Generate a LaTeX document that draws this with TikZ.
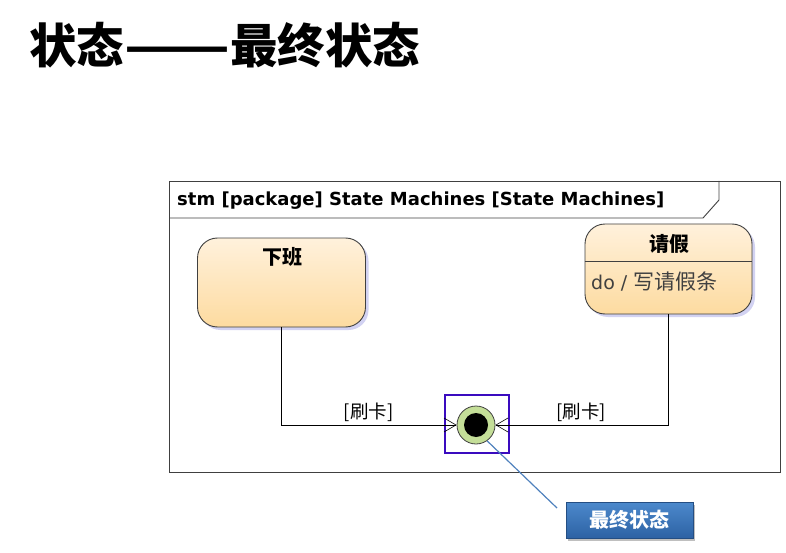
\documentclass[tikz,border=0pt]{standalone}
\usepackage{fontspec}
\setmainfont{Carlito}
\newfontfamily\cjk{Noto Sans CJK SC}
\newfontfamily\dvs{DejaVu Sans}
\usetikzlibrary{arrows.meta,shadows,calc}
\definecolor{framegray}{HTML}{404040}
\definecolor{stTop}{HTML}{FFF1DC}
\definecolor{stBot}{HTML}{FDDBA0}
\definecolor{finGreen}{HTML}{C4DE98}
\definecolor{selBlue}{HTML}{3A0BBF}
\definecolor{callLine}{HTML}{4F81BD}
\definecolor{boxTop}{HTML}{4C89CC}
\definecolor{boxBot}{HTML}{2D62A4}
\tikzset{
  statebox/.style={draw=framegray, line width=0.9pt, rounded corners=20pt,
    top color=stTop, bottom color=stBot,
    drop shadow={shadow xshift=3pt, shadow yshift=-3pt, fill=black!30!blue!25, opacity=0.7}},
  arr/.style={draw=black, line width=0.7pt, -{Straight Barb[length=12pt,width=14pt,line width=0.6pt]}},
  lbl/.style={font=\cjk\fontsize{18.5}{20}\selectfont, inner sep=1pt},
}
\begin{document}
\begin{tikzpicture}[x=1pt,y=-1pt]
\useasboundingbox (0,0) rectangle (786,553);
% title
\node[anchor=west, inner sep=0pt, font=\cjk\bfseries\fontsize{47.5}{50}\selectfont] (title) at (29,45) {状态\scalebox{1.3}[1]{——}最终状态};
% frame
\draw[framegray, line width=0.9pt] (169,181) rectangle (780,472);
\draw[framegray, line width=0.9pt] (169,218) -- (703,218) -- (719,200) -- (719,181);
\node[anchor=base west, inner sep=0pt, font=\dvs\bfseries\fontsize{18}{21}\selectfont] (ftitle) at (177,206) {stm [package] State Machines [State Machines]};
% states
\node[statebox, minimum width=168pt, minimum height=89pt] (xb) at (281.5,282.5) {};
\node[font=\cjk\bfseries\fontsize{20}{22}\selectfont, inner sep=0pt] (xbt) at (282.5,257) {下班};
\node[statebox, minimum width=167pt, minimum height=90pt] (qj) at (668.5,269) {};
\path (qj.north west) ++(0,38) coordinate (qa);
\path (qj.north east) ++(0,38) coordinate (qb);
\draw[framegray, line width=0.9pt] (qa) -- (qb);
\node[font=\cjk\bfseries\fontsize{20}{22}\selectfont, inner sep=0pt] (qjt) at (669,244) {请假};
\node[anchor=west, inner sep=0pt, text=black!75, font=\dvs\fontsize{19}{22}\selectfont] (qjd) at (591,282) {do / {\cjk\fontsize{21}{22}\selectfont 写请假条}};
% final state
\node[circle, draw=framegray, line width=0.8pt, fill=finGreen, minimum size=38pt, inner sep=0pt] (fin) at (476,425) {};
\node[circle, fill=black, minimum size=24pt, inner sep=0pt] (fini) at (fin.center) {};
\draw[selBlue, line width=2.6pt] (445,395) rectangle (509,453);
% transitions
\draw[arr] (xb.south) |- (fin.west);
\draw[arr] (qj.south) |- (fin.east);
\node[lbl] (l1) at (368.5,412) {[刷卡]};
\node[lbl] (l2) at (581,412) {[刷卡]};
% callout
\node[draw=boxBot!80!black, line width=0.5pt, top color=boxTop, bottom color=boxBot,
  minimum width=127pt, minimum height=36pt, inner sep=0pt, text=white,
  font=\cjk\bfseries\fontsize{20}{22}\selectfont,
  drop shadow={shadow xshift=2pt, shadow yshift=-3pt, fill=black, opacity=0.25}] (cb) at (629.5,520) {最终状态};
\coordinate (cs) at (557,508);
\draw[callLine, line width=1.2pt] ($(fin.center)!1!(fin.-55)$) -- (cs);
\end{tikzpicture}
\end{document}
